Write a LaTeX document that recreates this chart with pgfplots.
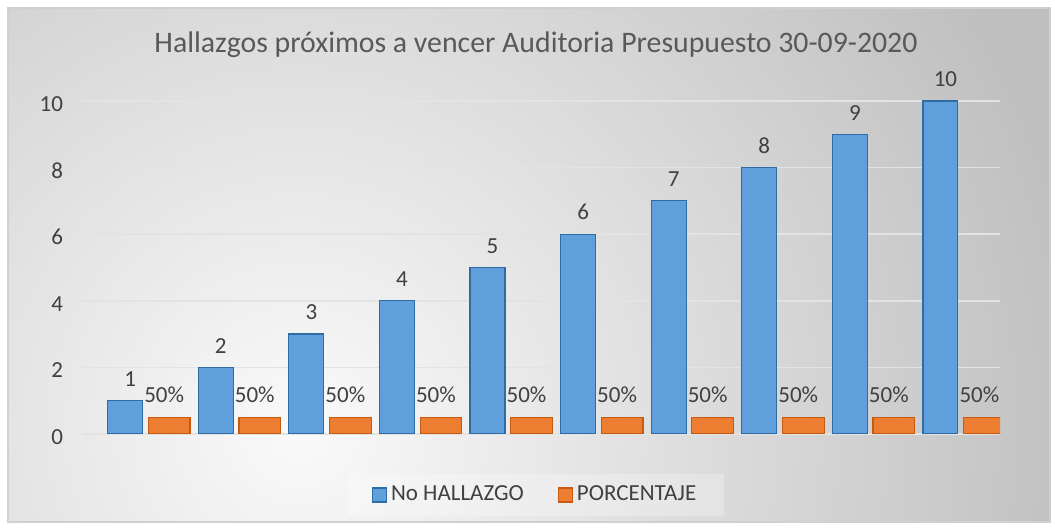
\documentclass[border=0pt]{standalone}
\usepackage{fontspec}
\setmainfont{Carlito}
\usepackage{pgfplots}
\pgfplotsset{compat=1.18}

\definecolor{bgGray}{HTML}{BFBFBF}
\definecolor{bgLight}{HTML}{FAFAFA}
\definecolor{frameGray}{HTML}{D0D0D0}
\definecolor{txt}{HTML}{404040}
\definecolor{titleTxt}{HTML}{595959}
\definecolor{blueFill}{HTML}{5FA0DC}
\definecolor{blueEdge}{HTML}{2E6DA4}
\definecolor{orangeFill}{HTML}{ED7D31}
\definecolor{orangeEdge}{HTML}{C55A11}
\definecolor{gridC}{HTML}{E3E3E3}

% x = category, hallazgo = No HALLAZGO, porcentaje = 50%
\pgfplotstableread{
x hallazgo porcentaje
1 1 0.5
2 2 0.5
3 3 0.5
4 4 0.5
5 5 0.5
6 6 0.5
7 7 0.5
8 8 0.5
9 9 0.5
10 10 0.5
}\datatable

\begin{document}
\begin{tikzpicture}
\path[use as bounding box] (0,0) rectangle (527.5pt,264.5pt);
\fill[white] (0,0) rectangle (527.5pt,264.5pt);
\begin{scope}
  \clip (4pt,3.5pt) rectangle (525pt,260.5pt);
  \fill[bgGray] (4pt,3.5pt) rectangle (525pt,260.5pt);
  \shade[inner color=bgLight, outer color=bgGray] (150pt,50pt) circle (400pt);
\end{scope}
\draw[frameGray, line width=0.8pt] (4pt,3.5pt) rectangle (525pt,260.5pt);
\node[font=\fontsize{14.9}{17}\selectfont, text=titleTxt] at (268pt,242pt)
  {Hallazgos próximos a vencer Auditoria Presupuesto 30-09-2020};

\begin{axis}[
  at={(41pt,47.5pt)}, anchor=south west, scale only axis,
  width=459pt, height=166.5pt,
  xmin=0.28, xmax=10.415, ymin=0, ymax=10,
  ytick={0,2,...,10}, xtick=\empty,
  ymajorgrids, grid style={gridC, line width=0.8pt},
  axis line style={draw=none}, major tick length=0pt,
  /pgf/number format/assume math mode=true,
  yticklabel style={font=\fontsize{11.5}{13}\selectfont, text=txt, xshift=-6pt, yshift=-1.5pt},
  every node near coord/.append style={font=\fontsize{11.5}{13}\selectfont, text=txt, yshift=3.5pt},
  legend style={at={(0.4946,-0.183)}, anchor=center, legend columns=2,
    fill=white, fill opacity=0.25, text opacity=1, draw=none,
    inner xsep=12pt, inner ysep=4pt,
    font=\fontsize{11.5}{13}\selectfont, text=txt,
    /tikz/every even column/.append style={column sep=15pt}},
  legend image code/.code={\draw[#1, fill opacity=1] (0pt,-3.5pt) rectangle (7pt,3.5pt);},
]
\addplot[ybar, bar width=0.386, bar shift=-0.243, draw=blueEdge, line width=0.6pt,
  fill=blueFill, nodes near coords,
  every node near coord/.append style={xshift=-8.5pt}]
  table[x=x, y=hallazgo] {\datatable};
\addlegendentry{No HALLAZGO}
\addplot[ybar, bar width=0.46, bar shift=0.243, draw=orangeEdge, line width=0.6pt,
  fill=orangeFill, nodes near coords={50\%},
  every node near coord/.append style={xshift=8.5pt}]
  table[x=x, y=porcentaje] {\datatable};
\addlegendentry{PORCENTAJE}
\end{axis}
\end{tikzpicture}
\end{document}
